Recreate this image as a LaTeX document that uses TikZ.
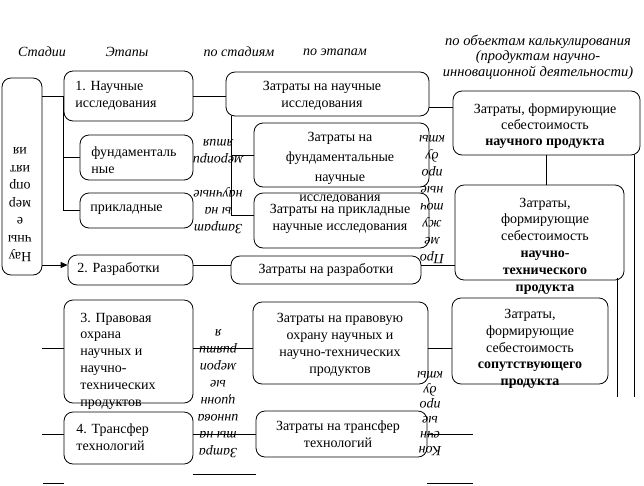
\documentclass[tikz,border=0pt]{standalone}
\usepackage{fontspec}
\setmainfont{Liberation Serif}
\usetikzlibrary{calc,arrows.meta}

\begin{document}
\begin{tikzpicture}[x=1pt,y=-1pt,line width=0.8pt,
	box/.style={draw,rounded corners=9pt,fill=white,inner sep=0pt},
	txt/.style={inner sep=0pt,align=center,font=\fontsize{14}{16.8}\selectfont},
	ltxt/.style={txt,align=left,anchor=west},
	hdr/.style={txt,font=\fontsize{14}{15.5}\selectfont\itshape},
	rot/.style={txt,rotate=180,font=\fontsize{14}{17}\selectfont\itshape}]
	\useasboundingbox (0,0) rectangle (644,485);
	%
	\node[hdr] (h1) at (42,52) {Стадии};
	\node[hdr] (h2) at (127,52) {Этапы};
	\node[hdr] (h3) at (239,52) {по стадиям};
	\node[hdr] (h4) at (335,52) {по этапам};
	\node[hdr,font=\fontsize{14.5}{15.5}\selectfont\itshape] (h5) at (538,57) {по объектам калькулирования\\(продуктам научно-\\инновационной деятельности)};
	% stages and phases
	\node[box,minimum width=40,minimum height=197] (stg) at (22,176.5) {};
	\node[box,minimum width=129,minimum height=50] (st1) at (128.5,96) {};
	\node[ltxt] (t1) at (75,96) {1. Научные\\исследования};
	\node[box,minimum width=113,minimum height=45] (fund) at (136.5,157.5) {};
	\node[ltxt] (tf) at (91,160) {фундаменталь\\ные};
	\node[box,minimum width=113,minimum height=35] (appl) at (136.5,210.5) {};
	\node[ltxt] (ta) at (90,210) {прикладные};
	\node[box,minimum width=125,minimum height=30] (st2) at (130.5,270) {};
	\node[ltxt] (t2) at (77,269) {2. Разработки};
	\node[box,minimum width=129,minimum height=103] (st3) at (128.5,351.5) {};
	\node[ltxt] (t3) at (80,361) {3. Правовая\\охрана\\научных и\\научно-\\технических\\продуктов};
	\node[box,minimum width=129,minimum height=52] (st4) at (128.5,438) {};
	\node[ltxt] (t4) at (76,437) {4. Трансфер\\технологий};
	% costs
	\node[box,minimum width=203,minimum height=44] (csci) at (327.5,94) {};
	\node[txt] (tcs) at (322,96) {Затраты на научные\\исследования};
	\node[box,minimum width=175,minimum height=64] (cfund) at (341.5,155) {};
	\node[box,minimum width=175,minimum height=55] (cappl) at (341.5,220.5) {};
	\begin{scope}
		\clip (250,118) rectangle (432,201);
		\node[txt,font=\fontsize{14}{20}\selectfont] (tcf) at (340,168.5) {Затраты на\\фундаментальные\\научные\\исследования};
	\end{scope}
	\node[txt] (tca) at (340,219) {Затраты на прикладные\\научные исследования};
	\node[box,minimum width=190,minimum height=28] (cdev) at (326,270) {};
	\node[txt] (tcd) at (326,270) {Затраты на разработки};
	\node[box,minimum width=175,minimum height=82] (clegal) at (340.5,343) {};
	\node[txt] (tcl) at (340,345) {Затраты на правовую\\охрану научных и\\научно-технических\\продуктов};
	\node[box,minimum width=171,minimum height=46] (ctrans) at (341.5,434) {};
	\node[txt] (tct) at (338,434.5) {Затраты на трансфер\\технологий};
	% objects
	\node[box,minimum width=187,minimum height=64] (osci) at (546.5,123) {};
	\node[txt,font=\fontsize{14}{16}\selectfont] (tos) at (545,126) {Затраты, формирующие\\себестоимость\\\textbf{научного продукта}};
	\node[box,minimum width=169,minimum height=95] (otech) at (539.5,232.5) {};
	\node[txt] (tot) at (545,246) {Затраты,\\формирующие\\себестоимость\\\textbf{научно-}\\\textbf{технического}\\\textbf{продукта}};
	\node[box,minimum width=156,minimum height=86] (ocoop) at (530,341) {};
	\node[txt] (toc) at (530,349) {Затраты,\\формирующие\\себестоимость\\\textbf{сопутствующего}\\\textbf{продукта}};
	%
	\coordinate (j2) at ($(st2.west)+(0,-5)$);
	\coordinate (j1) at ($(csci.east)+(0,13)$);
	\coordinate (j3) at ($(st3.west)+(0,-3.5)$);
	\coordinate (j4) at (ctrans.west);
	\coordinate (ct) at ($(csci.south west)+(6,0)$);
	\draw (st1.west -| stg.east) -- (st1.west);
	\draw (st1.west) |- (fund.west);
	\draw (st1.west) |- (appl.west);
	\draw[-{Triangle[length=7pt,width=6pt]}] (j2 -| stg.east) -- (j2);
	\draw (j2 -| st2.east) -- (j2 -| cdev.west);
	\draw (j2 -| cdev.east) -- (j2 -| otech.west);
	\draw (st1.east) -- (st1.east -| csci.west);
	\draw (ct) |- (cfund.west);
	\draw (ct) |- ($(cappl.west)+(0,-5)$);
	\draw (j1) -- (j1 -| osci.west);
	\draw (osci.south) -- (osci.south |- otech.north);
	\draw (j3 -| stg.east) -- (j3);
	\draw (j3 -| st3.east) -- (j3 -| clegal.west);
	\draw (j3 -| clegal.east) -- (j3 -| ocoop.west);
	\draw (j4 -| stg.east) -- (j4 -| st4.west);
	\draw (j4 -| st4.east) -- (j4);
	\draw (ctrans.east) -- ++(46,0);
	% loose ends
	\coordinate (b1) at (43,483);
	\coordinate (b2) at (193,474);
	\coordinate (b3) at (ctrans.east |- b1);
	\coordinate (vb) at (0,397);
	\coordinate (v1) at ($(otech.south east)+(-7,-2)$);
	\coordinate (v2) at ($(osci.south east)+(-6,0)$);
	\draw (b1) -- (b1 -| st4.west);
	\draw (b2) -- (b2 -| ctrans.west);
	\draw (b3) -- ++(46,0);
	\draw (v1) -- (v1 |- vb);
	\draw (v2) -- (v2 |- vb);
	% turned texts
	\node[rot,font=\fontsize{14}{17.5}\selectfont\upshape] (rs) at (20,205) {Нау\\чны\\е\\мер\\опр\\ият\\ия};
	\node[rot] (ra) at (218,187) {Затрат\\ы на\\научные\\\mbox{}\\меропри\\ятия};
	\node[rot] (rb) at (218,393.5) {Затра\\ты на\\иннова\\ционн\\ые\\мероп\\рияти\\я};
	\node[rot] (rc) at (432,200) {Про\\ме\\жу\\точ\\ные\\про\\ду\\кты};
	\node[rot,font=\fontsize{14}{15}\selectfont\itshape] (rd) at (430,414) {Кон\\ечн\\ые\\про\\ду\\кты};
\end{tikzpicture}
\end{document}
